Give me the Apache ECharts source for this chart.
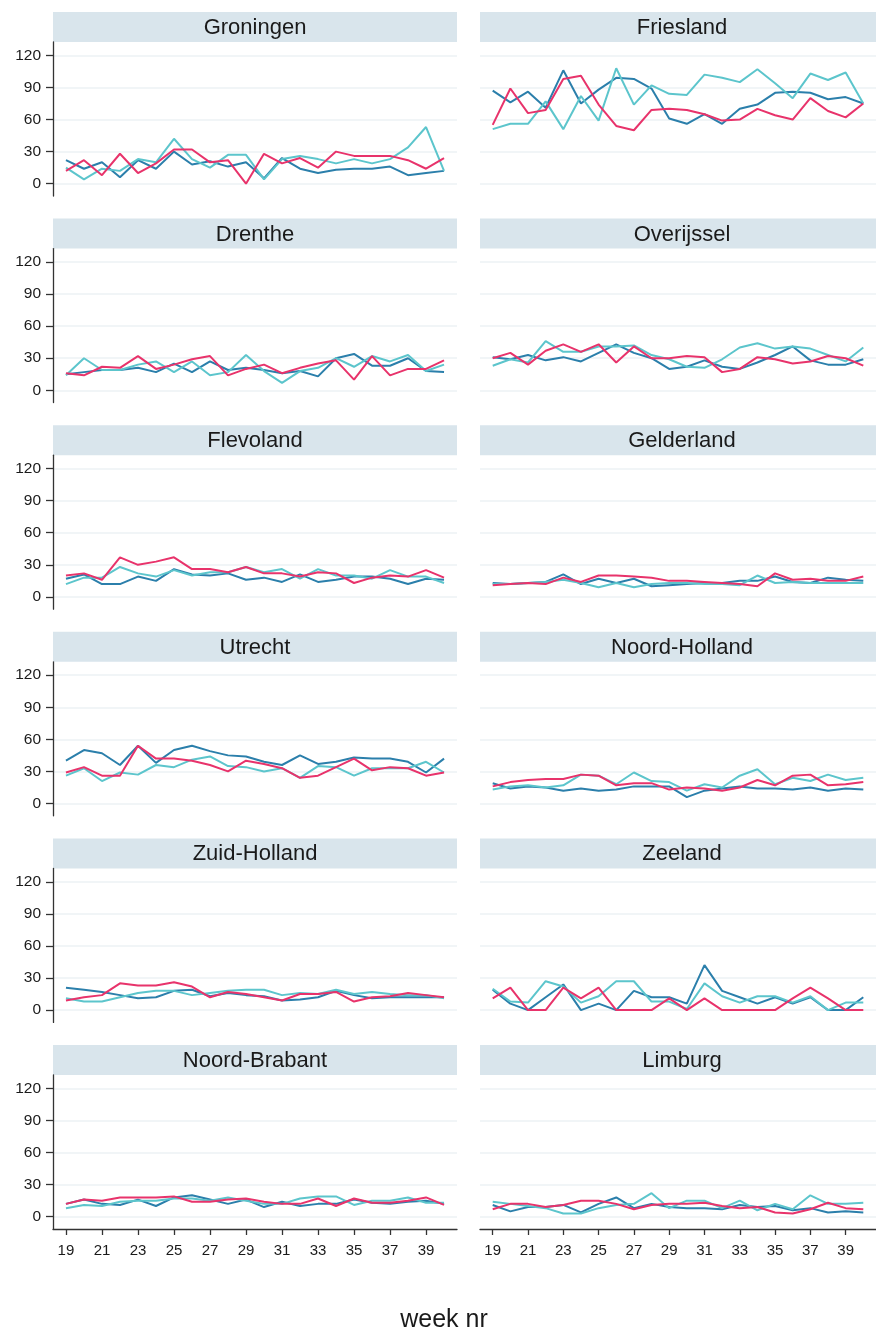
<!DOCTYPE html>
<html><head><meta charset="utf-8">
<script src="https://cdn.jsdelivr.net/npm/echarts@6/dist/echarts.min.js"></script>
<style>html,body{margin:0;padding:0;background:#fff}#c{width:876px;height:1333px}</style>
</head><body><div id="c"></div>
<script>
const weeks = [19,20,21,22,23,24,25,26,27,28,29,30,31,32,33,34,35,36,37,38,39,40];
const xTickWeeks = [19,21,23,25,27,29,31,33,35,37,39];
const yTickValues = [0,30,60,90,120];
const seriesNames = ['reeks 1','reeks 2','reeks 3'];
const seriesColors = ['#2b7fab','#5cc5cc','#e8336b'];

const groningenDark = [22,14,20,6,22,14,30,18,21,16,20,5,24,14,10,13,14,14,16,8,10,12];
const groningenCyan = [15,4,14,12,23,20,42,23,15,27,27,4,23,26,23,19,23,19,23,34,53,12];
const groningenRed  = [12,22,8,28,10,19,32,32,20,22,0,28,19,24,15,30,26,26,26,22,14,24];

const frieslandDark = [87,76,86,71,106,75,88,99,98,89,61,56,65,56,70,74,85,86,85,79,81,75];
const frieslandCyan = [51,56,56,77,51,82,59,108,74,92,84,83,102,99,95,107,94,80,103,97,104,75];
const frieslandRed  = [55,89,66,69,98,101,74,54,50,69,70,69,65,59,60,70,64,60,80,68,62,75];

const drentheDark = [15,17,19,19,21,17,25,17,27,19,21,19,16,18,13,30,34,23,23,30,18,17];
const drentheCyan = [14,30,19,19,24,27,17,27,14,17,33,18,7,18,21,30,22,32,27,33,18,24];
const drentheRed  = [16,14,22,21,32,20,24,29,32,14,20,24,16,21,25,28,10,32,14,20,20,28];

const overijsselDark = [31,29,33,28,31,27,35,43,35,30,20,22,28,22,20,26,33,41,28,24,24,29];
const overijsselCyan = [23,29,26,46,36,36,41,41,42,33,29,22,21,29,40,44,39,41,39,33,27,40];
const overijsselRed  = [30,35,24,37,43,36,43,26,41,30,30,32,31,17,20,31,29,25,27,32,30,23];

const flevolandDark = [17,21,12,12,19,15,26,21,20,22,16,18,14,21,14,16,19,19,17,12,17,16];
const flevolandCyan = [12,18,18,28,22,19,25,20,23,23,28,23,26,17,26,20,20,17,25,19,19,13];
const flevolandRed  = [20,22,16,37,30,33,37,26,26,23,28,22,22,19,23,22,13,18,20,19,25,18];

const gelderlandDark = [13,12,13,14,21,12,17,13,17,10,11,12,13,13,15,15,19,14,13,18,16,15];
const gelderlandCyan = [12,12,13,14,16,13,9,13,9,12,13,13,12,12,11,20,13,14,13,13,13,13];
const gelderlandRed  = [11,12,13,12,18,14,20,20,19,18,15,15,14,13,12,10,22,16,17,15,15,19];

const utrechtDark = [40,50,47,36,54,38,50,54,49,45,44,39,36,45,37,39,43,42,42,39,29,42];
const utrechtCyan = [26,33,21,29,27,36,34,41,44,35,34,30,33,24,35,34,26,33,33,33,39,29];
const utrechtRed  = [29,34,26,26,54,42,42,40,36,30,40,37,33,24,26,34,42,31,34,33,26,29];

const noordHollandDark = [19,14,16,15,12,14,12,13,16,16,16,6,12,14,16,14,14,13,15,12,14,13];
const noordHollandCyan = [13,16,17,15,17,27,26,18,29,21,20,12,18,15,26,32,18,24,21,27,22,24];
const noordHollandRed  = [16,20,22,23,23,27,26,17,19,19,13,15,14,12,15,22,17,26,27,17,18,20];

const zuidHollandDark = [21,19,17,14,11,12,18,19,13,16,14,13,9,10,12,18,14,11,12,12,12,12];
const zuidHollandCyan = [11,8,8,12,16,18,18,14,16,18,19,19,14,16,15,19,15,17,15,14,14,11];
const zuidHollandRed  = [9,12,14,25,23,23,26,22,12,17,15,12,9,15,15,17,8,12,13,16,14,12];

const zeelandDark = [19,6,0,12,24,0,6,0,18,12,12,6,42,18,12,6,12,6,12,0,0,12];
const zeelandCyan = [20,8,7,27,22,7,13,27,27,8,8,1,25,13,7,13,13,7,13,0,7,7];
const zeelandRed  = [11,21,0,0,21,11,21,0,0,0,11,0,11,0,0,0,0,11,21,11,0,0];

const noordBrabantDark = [12,16,12,11,16,10,18,20,16,12,16,9,14,10,12,12,16,13,12,14,15,12];
const noordBrabantCyan = [8,11,10,14,15,15,17,17,15,18,15,12,12,17,19,19,11,15,15,18,13,13];
const noordBrabantRed  = [12,16,15,18,18,18,19,14,14,16,17,14,12,12,17,10,17,13,13,15,18,11];

const limburgDark = [11,5,9,9,11,4,12,18,8,12,9,8,8,7,11,9,10,6,8,4,5,4];
const limburgCyan = [14,12,10,8,3,3,8,11,12,22,8,15,15,8,15,6,12,7,20,12,12,13];
const limburgRed  = [7,12,12,9,11,15,15,12,7,11,12,12,13,10,8,9,4,3,7,13,8,7];

const provinceNames = ['Groningen','Friesland','Drenthe','Overijssel','Flevoland','Gelderland','Utrecht','Noord-Holland','Zuid-Holland','Zeeland','Noord-Brabant','Limburg'];
const provinceSeries = [
  [groningenDark, groningenCyan, groningenRed],
  [frieslandDark, frieslandCyan, frieslandRed],
  [drentheDark, drentheCyan, drentheRed],
  [overijsselDark, overijsselCyan, overijsselRed],
  [flevolandDark, flevolandCyan, flevolandRed],
  [gelderlandDark, gelderlandCyan, gelderlandRed],
  [utrechtDark, utrechtCyan, utrechtRed],
  [noordHollandDark, noordHollandCyan, noordHollandRed],
  [zuidHollandDark, zuidHollandCyan, zuidHollandRed],
  [zeelandDark, zeelandCyan, zeelandRed],
  [noordBrabantDark, noordBrabantCyan, noordBrabantRed],
  [limburgDark, limburgCyan, limburgRed]
];

const FONT = '"Liberation Sans", Arial, sans-serif';
const colLeft = [53, 480];
const colWidth = [404, 405];
const rowStep = 206.6;
const firstTop = 12;
const stripH = 30;
const plotH = 154;

const grids = [], xAxes = [], yAxes = [], series = [], graphics = [];
provinceNames.forEach((name, i) => {
  const row = Math.floor(i / 2), col = i % 2;
  const top = firstTop + rowStep * row;
  const isBottom = row === 5, isLeft = col === 0;
  grids.push({left: colLeft[col], top: top + stripH, width: colWidth[col], height: plotH, containLabel: false});
  graphics.push({type: 'rect', silent: true, shape: {x: colLeft[col], y: top, width: colWidth[col], height: stripH}, style: {fill: '#d9e5ec'}});
  graphics.push({type: 'text', silent: true, x: colLeft[col] + 202, y: top + stripH / 2 + 1,
    style: {text: name, font: '22px ' + FONT, fill: '#1a1a1a', align: 'center', verticalAlign: 'middle'}});
  xAxes.push({
    type: 'value', gridIndex: i, min: 18.28, max: 40.72,
    axisLine: {show: isBottom, onZero: false, lineStyle: {color: '#333', width: 1.3}},
    axisTick: {show: isBottom, customValues: xTickWeeks, length: 6, lineStyle: {color: '#333', width: 1.3}},
    axisLabel: {show: isBottom, customValues: xTickWeeks, margin: 14, fontSize: 15, fontFamily: FONT, color: '#1a1a1a'},
    splitLine: {show: false}
  });
  yAxes.push({
    type: 'value', gridIndex: i, min: -11.5, max: 132.5,
    axisLine: {show: isLeft, onZero: false, lineStyle: {color: '#333', width: 1.3}},
    axisTick: {show: isLeft, customValues: yTickValues, length: 7, lineStyle: {color: '#333', width: 1.3}},
    axisLabel: {show: isLeft, customValues: yTickValues, margin: 12, fontSize: 15.5, fontFamily: FONT, color: '#1a1a1a'},
    splitLine: {show: true, lineStyle: {color: '#edf2f4', width: 1.5}}
  });
  provinceSeries[i].forEach((vals, k) => {
    series.push({
      type: 'line', name: seriesNames[k], xAxisIndex: i, yAxisIndex: i,
      data: weeks.map((w, j) => [w, vals[j]]),
      showSymbol: false, symbol: 'none', animation: false,
      lineStyle: {color: seriesColors[k], width: 2}, itemStyle: {color: seriesColors[k]}
    });
  });
});
graphics.push({type: 'text', silent: true, x: 444, y: 1320,
  style: {text: 'week nr', font: '25px ' + FONT, fill: '#1a1a1a', align: 'center', verticalAlign: 'middle'}});

const chart = echarts.init(document.getElementById('c'), null, {renderer: 'canvas'});
chart.setOption({
  backgroundColor: '#ffffff',
  animation: false,
  grid: grids, xAxis: xAxes, yAxis: yAxes, series: series,
  graphic: {elements: graphics}
});
</script>
</body></html>
